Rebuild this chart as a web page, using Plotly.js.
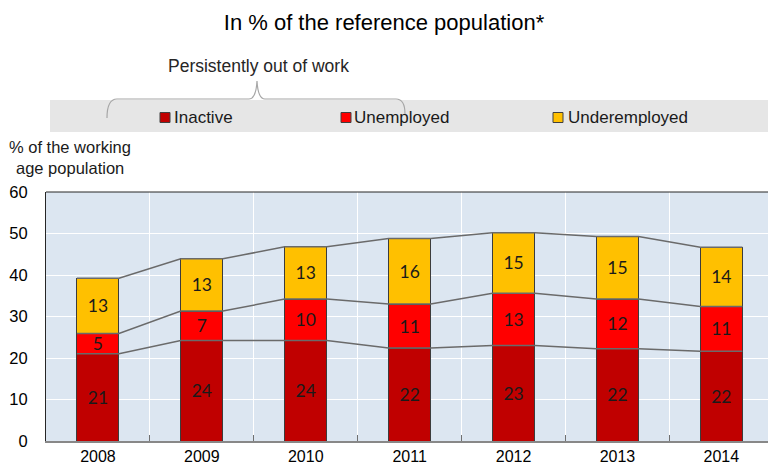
<!DOCTYPE html>
<html>
<head>
<meta charset="utf-8">
<script src="https://cdn.plot.ly/plotly-3.0.1.min.js"></script>
<style>html,body{margin:0;padding:0;background:#fff;}#chart{width:768px;height:465px;}</style>
</head>
<body>
<div id="chart"></div>
<script>
// ---- data ----
const years = ['2008', '2009', '2010', '2011', '2012', '2013', '2014'];
const seriesNames = ['Inactive', 'Unemployed', 'Underemployed'];
const inactive = [21.0, 24.2, 24.2, 22.4, 23.0, 22.2, 21.6];
const unemployed = [4.9, 7.1, 10.0, 10.6, 12.6, 12.0, 10.8];
const underemployed = [13.3, 12.6, 12.6, 15.8, 14.6, 15.1, 14.3];
const yTicks = [0, 10, 20, 30, 40, 50, 60];

// ---- styles ----
const colors = ['#C00000', '#FF0000', '#FFC000'];
const W = 768, H = 465;
const M = {l: 46, r: 0, t: 192, b: 24};
const barW = 0.405;
const arial = '"Liberation Sans", Arial, sans-serif';

const pw = W - M.l - M.r, ph = H - M.t - M.b;
const px2x = p => (p - M.l) / pw;
const px2y = p => (H - M.b - p) / ph;

const xIdx = years.map((_, i) => i);
const values = [inactive, unemployed, underemployed];

const traces = values.map((v, k) => ({
  type: 'bar', x: xIdx, y: v, name: seriesNames[k], width: barW,
  marker: {color: colors[k], line: {color: '#3c3c3c', width: 1}},
  texttemplate: '%{y:.0f}', textposition: 'inside', insidetextanchor: 'middle',
  textangle: 0, constraintext: 'none',
  textfont: {family: 'Lato, sans-serif', size: 17.5, color: '#1a1a1a'},
  hoverinfo: 'skip', showlegend: false
}));

// connector lines at the top of each stack level
let cum = years.map(() => 0);
values.forEach(v => {
  cum = cum.map((c, i) => c + v[i]);
  const xs = [], ys = [];
  cum.forEach((c, i) => { xs.push(i - barW / 2, i + barW / 2); ys.push(c, c); });
  traces.push({type: 'scatter', mode: 'lines', x: xs, y: ys,
    line: {color: '#6a6a6a', width: 1.5}, hoverinfo: 'skip', showlegend: false});
});

const shapes = [
  // legend band
  {type: 'rect', xref: 'paper', yref: 'paper', x0: px2x(50), x1: px2x(768), y0: px2y(132), y1: px2y(100),
    fillcolor: '#E6E6E6', line: {width: 0}, layer: 'below'},
  // top border
  {type: 'line', xref: 'paper', yref: 'paper', x0: 0, x1: 1, y0: 1, y1: 1, line: {color: '#262626', width: 1}},
  // brace
  {type: 'path', xref: 'paper', yref: 'paper', line: {color: '#a6a6a6', width: 1.2},
    path: `M${px2x(107)},${px2y(118)} Q${px2x(107)},${px2y(99)} ${px2x(117)},${px2y(99)} L${px2x(249)},${px2y(99)} Q${px2x(256)},${px2y(99)} ${px2x(257)},${px2y(81)} Q${px2x(258)},${px2y(99)} ${px2x(265)},${px2y(99)} L${px2x(396)},${px2y(99)} Q${px2x(405)},${px2y(99)} ${px2x(405)},${px2y(114)}`}
];

const legendSquareX = [160, 341, 553];
const legendTextX = [172, 352, 566];
const annotations = [
  {xref: 'paper', yref: 'paper', x: px2x(258), y: px2y(66), text: 'Persistently out of work', showarrow: false,
    xanchor: 'center', yanchor: 'middle', font: {family: arial, size: 17.5, color: '#262626'}},
  {xref: 'paper', yref: 'paper', x: px2x(70), y: px2y(147), text: '% of the working', showarrow: false,
    xanchor: 'center', yanchor: 'middle', font: {family: arial, size: 16.5, color: '#1a1a1a'}},
  {xref: 'paper', yref: 'paper', x: px2x(70), y: px2y(168), text: 'age population', showarrow: false,
    xanchor: 'center', yanchor: 'middle', font: {family: arial, size: 16.5, color: '#1a1a1a'}}
];
seriesNames.forEach((n, k) => {
  shapes.push({type: 'rect', xref: 'paper', yref: 'paper', x0: px2x(legendSquareX[k]), x1: px2x(legendSquareX[k] + 10),
    y0: px2y(122.5), y1: px2y(112.5), fillcolor: colors[k], line: {color: '#404040', width: 1}});
  annotations.push({xref: 'paper', yref: 'paper', x: px2x(legendTextX[k]), y: px2y(117.5), text: n, showarrow: false,
    xanchor: 'left', yanchor: 'middle', font: {family: arial, size: 17, color: '#1a1a1a'}});
});

const layout = {
  width: W, height: H, margin: M,
  paper_bgcolor: '#ffffff', plot_bgcolor: '#DCE6F1',
  barmode: 'stack', showlegend: false,
  title: {text: 'In % of the reference population*', x: 0.5, xref: 'container', xanchor: 'center',
    y: 1 - 22 / H, yref: 'container', yanchor: 'middle', font: {family: arial, size: 22, color: '#000'}},
  xaxis: {range: [-0.5, -0.5 + pw / 103.9], tickmode: 'array', tickvals: xIdx, ticktext: years,
    showgrid: false, zeroline: false, ticks: '', showline: true, linecolor: '#888888', linewidth: 2,
    ticklabelstandoff: 0, automargin: false, fixedrange: true,
    tickfont: {family: arial, size: 16, color: '#000'},
    minor: {tickmode: 'array', tickvals: xIdx.slice(0, -1).map(i => i + 0.5).concat([xIdx.length - 0.5]),
      showgrid: true, gridcolor: '#ffffff', gridwidth: 1, ticks: 'inside', ticklen: 6, tickcolor: '#707070', tickwidth: 1}},
  yaxis: {range: [0, 60], tickmode: 'array', tickvals: yTicks, showgrid: true, gridcolor: '#ffffff', gridwidth: 1,
    zeroline: false, ticks: '', showline: true, linecolor: '#262626', linewidth: 1,
    ticklabelstandoff: 14, automargin: false, fixedrange: true,
    tickfont: {family: arial, size: 16.5, color: '#000'}},
  shapes: shapes, annotations: annotations
};

Plotly.newPlot('chart', traces, layout, {staticPlot: true, displayModeBar: false});
</script>
</body>
</html>
